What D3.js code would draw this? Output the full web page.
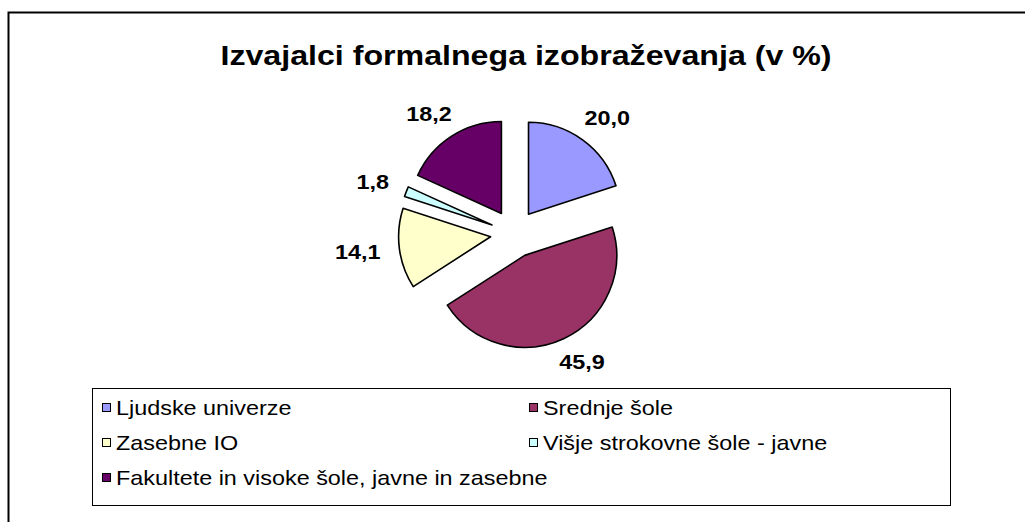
<!DOCTYPE html>
<html><head><meta charset="utf-8">
<script src="https://cdn.jsdelivr.net/npm/d3@7"></script>
<style>body{margin:0;background:#fff}svg{display:block}text{font-family:"Liberation Sans",Arial,sans-serif}</style>
</head><body><svg id="c" width="1025" height="522"></svg>
<script>
const title = "Izvajalci formalnega izobraževanja (v %)";
const categories = ["Ljudske univerze","Srednje šole","Zasebne IO","Višje strokovne šole - javne","Fakultete in visoke šole, javne in zasebne"];
const values = [20.0, 45.9, 14.1, 1.8, 18.2];
const colors = ["#9999FF","#993366","#FFFFCC","#CCFFFF","#660066"];

const SX = 1.17; // horizontal text stretch as in the original rendering
function txt(sel, x, y){ return sel.append("text").attr("transform",`translate(${x},${y}) scale(${SX},1)`); }

const svg = d3.select("#c");
svg.append("rect").attr("x",8.5).attr("y",12.5).attr("width",1100).attr("height",600)
  .attr("fill","#fff").attr("stroke","#000").attr("stroke-width",2);

txt(svg, 526, 65).attr("text-anchor","middle")
  .attr("font-size",27.5).attr("font-weight","bold").text(title);

const cx = 514.4, cy = 233.7, r = 92, explode = 24, labelR = 134;
const pie = d3.pie().sort(null).value(d=>d)(values);
const arc = d3.arc().innerRadius(0).outerRadius(r);
const loc = d3.formatLocale({decimal:",",thousands:".",grouping:[3],currency:["","€"]});
const fmt = loc.format(".1f");
const g = svg.append("g").attr("transform",`translate(${cx},${cy})`);
pie.forEach((p,i)=>{
  const a = (p.startAngle+p.endAngle)/2;
  const dx = Math.sin(a), dy = -Math.cos(a);
  g.append("path").attr("d",arc(p)).attr("fill",colors[i]).attr("stroke","#000").attr("stroke-width",1.6)
   .attr("stroke-linejoin","round")
   .attr("transform",`translate(${dx*explode},${dy*explode})`);
  const t = fmt(values[i]);
  const w = t.length*12, h = 17;
  txt(g, dx*labelR + dx*w/2, dy*labelR + dy*h/2 + 7)
   .attr("text-anchor","middle").attr("font-size",20).attr("font-weight","bold").text(t);
});

// legend
const lx = 92.5, ly = 388.5, lw = 858, lh = 117;
svg.append("rect").attr("x",lx).attr("y",ly).attr("width",lw).attr("height",lh)
  .attr("fill","#fff").attr("stroke","#000").attr("stroke-width",1);
const colX = [102, 529], rowY = [408, 443, 478];
categories.forEach((c,i)=>{
  const x = colX[i%2], y = rowY[Math.floor(i/2)];
  svg.append("rect").attr("x",x+0.5).attr("y",y-4.5).attr("width",8).attr("height",8)
    .attr("fill",colors[i]).attr("stroke","#000").attr("stroke-width",1);
  txt(svg, x+14, y+7).attr("font-size",20).text(c);
});
</script></body></html>
